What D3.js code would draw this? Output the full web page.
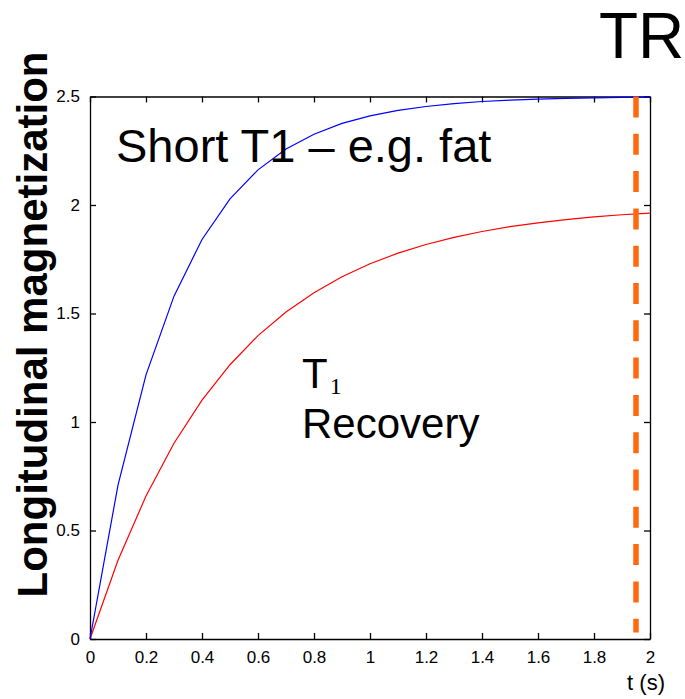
<!DOCTYPE html>
<html>
<head>
<meta charset="utf-8">
<script src="https://cdn.jsdelivr.net/npm/d3@7"></script>
<style>
  body { margin: 0; background: #fff; }
  svg { display: block; font-family: "Liberation Sans", Arial, sans-serif; }
  .axis path, .axis line { stroke: #000; stroke-width: 1.3; }
  .axis text { font-size: 17px; fill: #000; font-family: "Liberation Sans", Arial, sans-serif; }
</style>
</head>
<body>
<svg id="chart" width="685" height="699"></svg>
<script>
// time samples (s)
var times = [0, 0.1, 0.2, 0.3, 0.4, 0.5, 0.6, 0.7, 0.8, 0.9, 1.0,
             1.1, 1.2, 1.3, 1.4, 1.5, 1.6, 1.7, 1.8, 1.9, 2.0];
// short T1 (fat) - blue
var fatValues = [0, 0.709, 1.217, 1.580, 1.841, 2.028, 2.162, 2.258, 2.326, 2.376, 2.411,
                 2.436, 2.454, 2.467, 2.477, 2.483, 2.488, 2.491, 2.494, 2.496, 2.497];
// longer T1 - red
var tissueValues = [0, 0.363, 0.659, 0.902, 1.101, 1.264, 1.398, 1.507, 1.596, 1.669, 1.729,
                    1.778, 1.818, 1.851, 1.878, 1.900, 1.918, 1.933, 1.945, 1.955, 1.963];
// TR marker
var trTime = 1.95;
var trRange = [0.03, 2.5];

var xTicks = [0, 0.2, 0.4, 0.6, 0.8, 1, 1.2, 1.4, 1.6, 1.8, 2];
var yTicks = [0, 0.5, 1, 1.5, 2, 2.5];

var svg = d3.select("#chart");
var margin = {top: 96.5, right: 35, bottom: 60, left: 90};
var width = +svg.attr("width") - margin.left - margin.right;
var height = +svg.attr("height") - margin.top - margin.bottom;

var g = svg.append("g")
    .attr("transform", "translate(" + margin.left + "," + margin.top + ")");

var xScale = d3.scaleLinear().domain([0, 2]).range([0, width]);
var yScale = d3.scaleLinear().domain([0, 2.5]).range([height, 0]);

var fmt = function(d) { return String(d); };

// bottom axis (ticks point inward)
g.append("g")
    .attr("class", "axis")
    .attr("transform", "translate(0," + height + ")")
    .call(d3.axisBottom(xScale).tickValues(xTicks).tickFormat(fmt).tickSizeInner(-6).tickSizeOuter(0).tickPadding(12));

// left axis
g.append("g")
    .attr("class", "axis")
    .call(d3.axisLeft(yScale).tickValues(yTicks).tickFormat(fmt).tickSizeInner(-6).tickSizeOuter(0).tickPadding(10));

// top + right box ticks
g.append("g")
    .attr("class", "axis")
    .call(d3.axisTop(xScale).tickValues(xTicks).tickFormat("").tickSizeInner(-6).tickSizeOuter(0));

g.append("g")
    .attr("class", "axis")
    .attr("transform", "translate(" + width + ",0)")
    .call(d3.axisRight(yScale).tickValues(yTicks).tickFormat("").tickSizeInner(-6).tickSizeOuter(0));

var line = d3.line()
    .x(function(d) { return xScale(d[0]); })
    .y(function(d) { return yScale(d[1]); });

g.append("path")
    .datum(d3.zip(times, tissueValues))
    .attr("fill", "none")
    .attr("stroke", "#ff0000")
    .attr("stroke-width", 1.2)
    .attr("d", line);

g.append("path")
    .datum(d3.zip(times, fatValues))
    .attr("fill", "none")
    .attr("stroke", "#0000ff")
    .attr("stroke-width", 1.2)
    .attr("d", line);

// TR dashed line
g.append("line")
    .attr("x1", xScale(trTime))
    .attr("x2", xScale(trTime))
    .attr("y1", yScale(trRange[1]))
    .attr("y2", yScale(trRange[0]))
    .attr("stroke", "#ff6a10")
    .attr("stroke-width", 5.5)
    .attr("stroke-dasharray", "21,16.3");

// annotations
svg.append("text")
    .attr("x", 116)
    .attr("y", 162)
    .attr("font-size", 47)
    .text("Short T1 \u2013 e.g. fat");

var t1 = svg.append("text")
    .attr("x", 302)
    .attr("y", 388)
    .attr("font-size", 42);
t1.append("tspan").text("T");
t1.append("tspan")
    .attr("font-family", "'Liberation Serif', 'Times New Roman', serif")
    .attr("font-size", 24)
    .attr("dx", 2)
    .attr("dy", 6)
    .text("1");

svg.append("text")
    .attr("x", 302)
    .attr("y", 438)
    .attr("font-size", 42)
    .text("Recovery");

svg.append("text")
    .attr("x", 599)
    .attr("y", 58)
    .attr("font-size", 64)
    .text("TR");

// axis titles
svg.append("text")
    .attr("x", 665)
    .attr("y", 690)
    .attr("text-anchor", "end")
    .attr("font-size", 22)
    .text("t (s)");

svg.append("text")
    .attr("transform", "translate(47," + 324.5 + ") rotate(-90)")
    .attr("text-anchor", "middle")
    .attr("font-size", 42)
    .attr("font-weight", "bold")
    .text("Longitudinal magnetization");
</script>
</body>
</html>
